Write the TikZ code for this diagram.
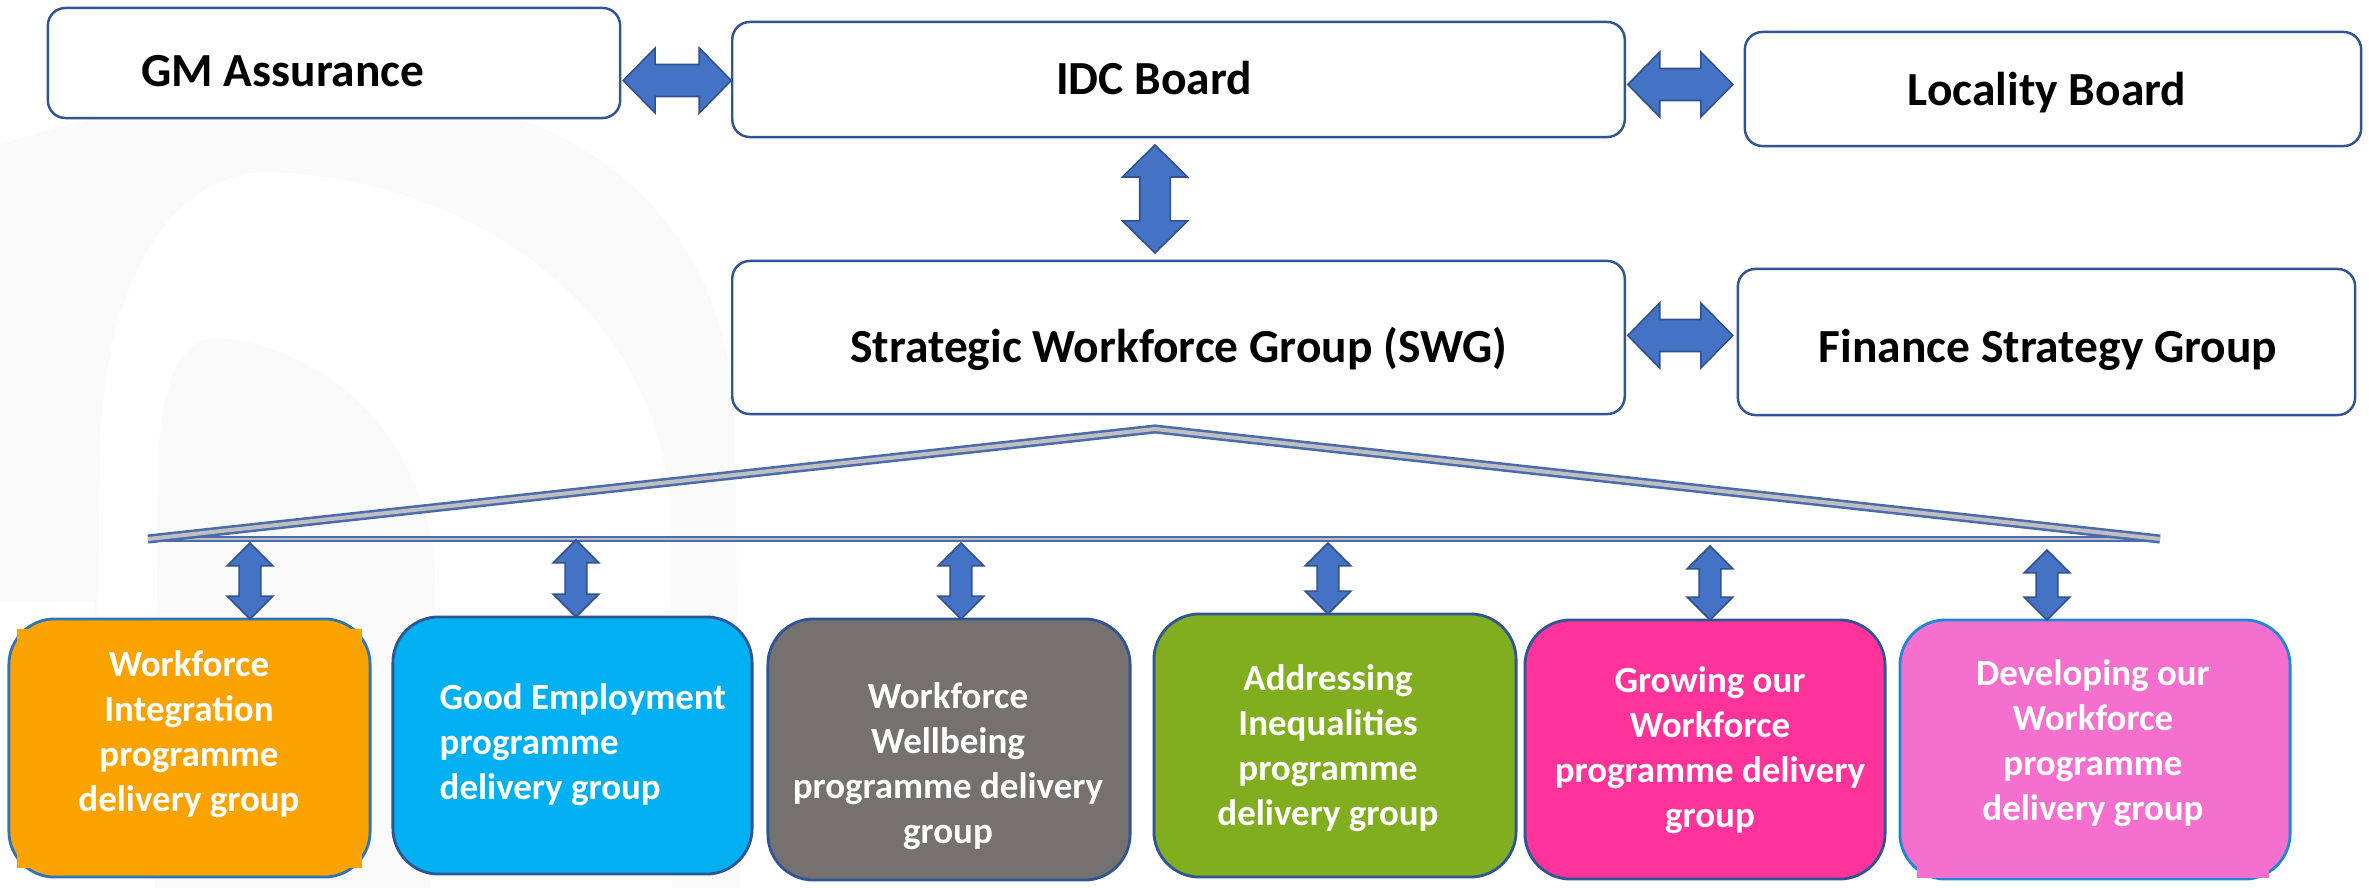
\documentclass[tikz,border=0pt]{standalone}
\usepackage{fontspec}
\setmainfont{Carlito}
\usetikzlibrary{calc}
\definecolor{bordblue}{HTML}{2F5597}
\definecolor{arrfill}{HTML}{4472C4}
\definecolor{arrbord}{HTML}{2F528F}
\definecolor{corange}{HTML}{FAA300}
\definecolor{ccyan}{HTML}{00B0F0}
\definecolor{cgrey}{HTML}{767171}
\definecolor{cgreen}{HTML}{80AE1F}
\definecolor{cpink}{HTML}{FF3399}
\definecolor{clpink}{HTML}{F570CE}
\definecolor{lblue}{HTML}{2E75B6}
\definecolor{lbluetwo}{HTML}{1A8AD4}
\definecolor{trigrey}{HTML}{BFBFBF}
\definecolor{triblue}{HTML}{4A6BAE}
\definecolor{wmark}{HTML}{FAFAFA}
\tikzset{
  topbox/.style={draw=bordblue, line width=0.7pt, rounded corners=5pt, fill=white, inner sep=0pt, outer sep=0pt},
  botbox/.style={draw=bordblue, line width=0.8pt, rounded corners=13pt, inner sep=0pt, outer sep=0pt},
  toptext/.style={font=\fontsize{13.5}{16}\selectfont\bfseries, inner sep=0pt, anchor=base},
  bottext/.style={text=white, font=\fontsize{10.5}{12.8}\selectfont\bfseries, align=center, inner sep=0pt},
  harr/.style n args={3}{draw=arrbord, fill=arrfill, line width=0.45pt, line join=miter,
    to path={let \p1=(\tikztostart), \p2=(\tikztotarget) in
      -- (\x1+#1,\y1+#2) -- (\x1+#1,\y1+#3) -- (\x2-#1,\y2+#3) -- (\x2-#1,\y2+#2)
      -- (\p2) -- (\x2-#1,\y2-#2) -- (\x2-#1,\y2-#3) -- (\x1+#1,\y1-#3) -- (\x1+#1,\y1-#2) -- cycle}},
  varr/.style n args={3}{draw=arrbord, fill=arrfill, line width=0.45pt, line join=miter,
    to path={let \p1=(\tikztostart), \p2=(\tikztotarget) in
      -- (\x1+#2,\y1-#1) -- (\x1+#3,\y1-#1) -- (\x2+#3,\y2+#1) -- (\x2+#2,\y2+#1)
      -- (\p2) -- (\x2-#2,\y2+#1) -- (\x2-#3,\y2+#1) -- (\x1-#3,\y1-#1) -- (\x1-#2,\y1-#1) -- cycle}},
  triline/.style={draw=triblue, line width=0.72pt, double=trigrey, double distance=1.15pt, line join=miter},
  tribase/.style={draw=triblue, line width=0.5pt, double=trigrey, double distance=0.8pt},
}
\begin{document}
\begin{tikzpicture}[x=0.01cm, y=-0.01cm]
\useasboundingbox (0,0) rectangle (2369,888);
\fill[white] (0,0) rectangle (2369,888);
% faint watermark
\fill[wmark] (0,145) .. controls (120,105) and (250,90) .. (380,92)
  .. controls (560,100) and (725,200) .. (735,420) -- (740,888) -- (95,888) -- (95,602) -- (0,602) -- cycle;
\fill[white] (95,888) -- (100,440) .. controls (110,260) and (180,175) .. (265,172)
  .. controls (450,175) and (650,290) .. (670,500) -- (672,888) -- cycle;
\fill[wmark] (155,888) -- (158,460) .. controls (162,380) and (180,340) .. (215,338)
  .. controls (320,345) and (425,430) .. (435,570) -- (430,888) -- cycle;

% top boxes
\node[topbox, minimum width=5.72cm, minimum height=1.10cm] (gm) at (334,63) {};
\node[topbox, minimum width=8.92cm, minimum height=1.15cm] (idc) at (1178.5,79.5) {};
\node[topbox, minimum width=6.16cm, minimum height=1.14cm] (loc) at (2053,89) {};
\node[topbox, minimum width=8.92cm, minimum height=1.53cm] (swg) at (1178.5,337.5) {};
\node[topbox, minimum width=6.17cm, minimum height=1.46cm] (fin) at (2046.5,342) {};
\node[toptext] (gmt) at (283,87) {GM Assurance};
\node[toptext] (idct) at (1154,95) {IDC Board};
\node[toptext] (loct) at (2047,106) {Locality Board};
\node[toptext] (swgt) at (1179,362) {Strategic Workforce Group (SWG)};
\node[toptext] (fint) at (2048,362) {Finance Strategy Group};

% big arrows
\coordinate (a1s) at ($(gm.east)+(3,17.5)$);
\coordinate (a1e) at ($(idc.west)+(-1,1)$);
\coordinate (a2s) at ($(idc.east)+(3,5)$);
\coordinate (a2e) at ($(loc.west)+(-12,-4.5)$);
\coordinate (a3s) at ($(swg.east)+(3,-2)$);
\coordinate (a3e) at ($(fin.west)+(-5,-6.5)$);
\coordinate (a4s) at ($(idc.south)+(-23.5,8)$);
\coordinate (a4e) at ($(swg.north)+(-23.5,-8)$);
\draw[harr={9.1pt}{9.25pt}{4.55pt}] (a1s) to (a1e);
\draw[harr={9.1pt}{9.25pt}{4.55pt}] (a2s) to (a2e);
\draw[harr={9.1pt}{9.25pt}{4.55pt}] (a3s) to (a3e);
\draw[varr={9.1pt}{9.25pt}{4.35pt}] (a4s) to (a4e);

% triangle connector
\coordinate (tl) at (148,539);
\coordinate (tr) at (2160,539);
\coordinate (ta) at (1155,429);
\draw[tribase] (tl) -- (tr);
\draw[triline] (tl) -- (ta) -- (tr);

% bottom boxes
\node[botbox, fill=corange, draw=lblue, minimum width=3.61cm, minimum height=2.58cm] (b1) at (189.5,748) {};
\fill[corange] (17,629) rectangle (362,868);
\node[botbox, fill=ccyan, minimum width=3.59cm, minimum height=2.57cm] (b2) at (572.5,745.5) {};
\node[botbox, fill=cgrey, minimum width=3.62cm, minimum height=2.61cm] (b3) at (949,749.5) {};
\node[botbox, fill=cgreen, minimum width=3.62cm, minimum height=2.63cm] (b4) at (1335,745.5) {};
\node[botbox, fill=cpink, minimum width=3.60cm, minimum height=2.59cm] (b5) at (1705,749.5) {};
\node[botbox, fill=clpink, draw=lbluetwo, minimum width=3.90cm, minimum height=2.59cm] (b6) at (2095,749.5) {};
\fill[clpink] (1917,780) rectangle (2269,878);

\node[bottext] (t1) at (189,734) {Workforce\\Integration\\programme\\delivery group};
\node[bottext, align=left, anchor=west] (t2) at (439,745) {Good Employment\\programme\\delivery group};
\node[bottext] (t3) at (948,766) {Workforce\\Wellbeing\\programme delivery\\group};
\node[bottext] (t4) at (1328,748) {Addressing\\Inequalities\\programme\\delivery group};
\node[bottext] (t5) at (1710,750) {Growing our\\Workforce\\programme delivery\\group};
\node[bottext] (t6) at (2093,743) {Developing our\\Workforce\\programme\\delivery group};

% small arrows
\coordinate (c1) at (250,543);
\coordinate (c2) at (576,540);
\coordinate (c3) at (961,543);
\coordinate (c4) at (1328,543);
\coordinate (c5) at (1710,546);
\coordinate (c6) at (2047,550);
\draw[varr={6.5pt}{6.5pt}{3.1pt}] (c1) to (c1 |- b1.north);
\draw[varr={6.5pt}{6.5pt}{3.1pt}] (c2) to (c2 |- b2.north);
\draw[varr={6.5pt}{6.5pt}{3.1pt}] (c3) to (c3 |- b3.north);
\draw[varr={6.5pt}{6.5pt}{3.1pt}] (c4) to (c4 |- b4.north);
\draw[varr={6.5pt}{6.5pt}{3.1pt}] (c5) to (c5 |- b5.north);
\draw[varr={6.5pt}{6.5pt}{3.1pt}] (c6) to (c6 |- b6.north);
\end{tikzpicture}
\end{document}
